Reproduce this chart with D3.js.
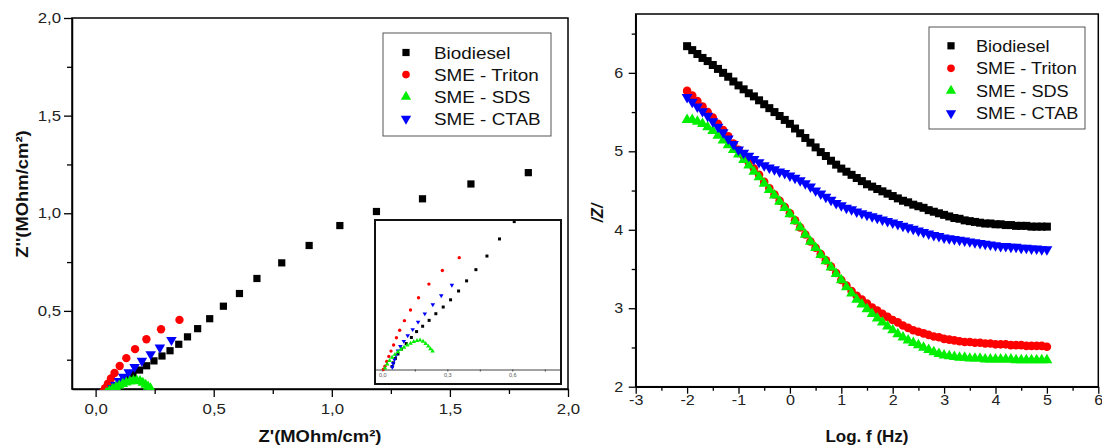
<!DOCTYPE html>
<html>
<head>
<meta charset="utf-8">
<script src="https://cdn.jsdelivr.net/npm/d3@7"></script>
<style>
  body { margin: 0; background: #fff; }
  text { font-family: "Liberation Sans", Arial, sans-serif; }
</style>
</head>
<body>
<div id="chart"></div>
<script>
// ---- Nyquist data (Z', Z'') in MOhm/cm2
var nyqBiodiesel = [[0.045,0.046],[0.051,0.06],[0.06,0.076],[0.072,0.093],[0.088,0.112],[0.11,0.132],[0.134,0.155],
    [0.158,0.177],[0.186,0.197],[0.216,0.219],[0.247,0.244],[0.281,0.269],[0.315,0.296],[0.352,0.329],[0.389,0.367],
    [0.432,0.409],[0.483,0.46],[0.541,0.524],[0.609,0.589],[0.683,0.666],[0.788,0.746],[0.904,0.835],[1.034,0.937],
    [1.189,1.009],[1.384,1.074],[1.589,1.15],[1.832,1.208]];
var nyqTriton = [[0.005,0.036],[0.012,0.047],[0.02,0.065],[0.03,0.084],[0.04,0.104],[0.052,0.127],[0.065,0.154],
    [0.08,0.182],[0.102,0.218],[0.13,0.258],[0.167,0.304],[0.215,0.355],[0.277,0.406],[0.355,0.454]];
var nyqSDS = [[0.012,0.04],[0.022,0.055],[0.033,0.068],[0.045,0.08],[0.058,0.091],[0.072,0.101],[0.086,0.11],
    [0.1,0.118],[0.115,0.126],[0.13,0.133],[0.145,0.139],[0.16,0.143],[0.174,0.145],[0.188,0.14],[0.2,0.132],
    [0.212,0.122],[0.222,0.112],[0.232,0.104]];
var nyqCTAB = [[0.046,0.044],[0.05,0.057],[0.056,0.072],[0.063,0.088],[0.072,0.105],[0.083,0.122],[0.099,0.141],
    [0.117,0.162],[0.14,0.185],[0.165,0.213],[0.196,0.244],[0.233,0.278],[0.272,0.312],[0.321,0.351]];

// ---- Bode data: log f (Hz) and |Z|
var logF = [-2.0,-1.9,-1.8,-1.7,-1.6,-1.5,-1.4,-1.3,-1.2,-1.1,-1.0,-0.9,-0.8,-0.7,-0.6,-0.5,-0.4,-0.3,-0.2,-0.1,
    0.0,0.1,0.2,0.3,0.4,0.5,0.6,0.7,0.8,0.9,1.0,1.1,1.2,1.3,1.4,1.5,1.6,1.7,1.8,1.9,2.0,2.1,2.2,2.3,2.4,2.5,2.6,2.7,
    2.8,2.9,3.0,3.1,3.2,3.3,3.4,3.5,3.6,3.7,3.8,3.9,4.0,4.1,4.2,4.3,4.4,4.5,4.6,4.7,4.8,4.9,5.0];
var zBiodiesel = [6.34,6.29,6.24,6.19,6.15,6.10,6.05,6.00,5.95,5.89,5.84,5.79,5.74,5.70,5.65,5.60,5.55,5.50,5.45,5.40,
    5.35,5.29,5.23,5.17,5.11,5.05,4.99,4.94,4.88,4.83,4.78,4.74,4.70,4.66,4.62,4.58,4.55,4.52,4.49,4.46,4.43,4.40,
    4.37,4.35,4.32,4.30,4.28,4.25,4.23,4.21,4.19,4.17,4.15,4.14,4.12,4.11,4.10,4.09,4.08,4.08,4.07,4.07,4.06,4.06,
    4.05,4.05,4.05,4.04,4.04,4.04,4.04];
var zTriton = [5.77,5.71,5.64,5.57,5.50,5.43,5.35,5.27,5.19,5.10,5.02,4.94,4.86,4.78,4.70,4.61,4.53,4.45,4.37,4.29,
    4.21,4.12,4.03,3.94,3.85,3.77,3.69,3.61,3.53,3.45,3.36,3.29,3.22,3.16,3.11,3.06,3.01,2.97,2.93,2.89,2.85,2.82,
    2.78,2.75,2.72,2.70,2.68,2.66,2.64,2.63,2.61,2.60,2.59,2.58,2.57,2.57,2.56,2.56,2.55,2.55,2.54,2.54,2.54,2.53,
    2.53,2.53,2.52,2.52,2.52,2.52,2.51];
var zSDS = [5.40,5.40,5.38,5.35,5.31,5.26,5.20,5.14,5.08,5.02,4.96,4.89,4.82,4.74,4.67,4.59,4.51,4.44,4.36,4.28,
    4.20,4.11,4.03,3.94,3.85,3.77,3.68,3.60,3.52,3.44,3.36,3.27,3.19,3.11,3.05,2.99,2.93,2.87,2.82,2.77,2.72,2.67,
    2.63,2.59,2.56,2.53,2.50,2.47,2.44,2.42,2.40,2.39,2.38,2.37,2.37,2.36,2.36,2.36,2.35,2.35,2.35,2.35,2.35,2.35,
    2.34,2.34,2.34,2.34,2.34,2.34,2.34];
var zCTAB = [5.69,5.63,5.57,5.51,5.45,5.38,5.31,5.24,5.16,5.09,5.02,4.98,4.94,4.90,4.86,4.82,4.79,4.77,4.74,4.72,
    4.69,4.66,4.63,4.59,4.55,4.50,4.46,4.42,4.38,4.34,4.31,4.28,4.26,4.23,4.21,4.19,4.17,4.15,4.13,4.11,4.09,4.07,
    4.05,4.03,4.01,3.99,3.97,3.95,3.93,3.92,3.90,3.89,3.88,3.87,3.86,3.85,3.84,3.83,3.82,3.81,3.80,3.79,3.79,3.78,
    3.78,3.77,3.77,3.76,3.76,3.75,3.75];

var seriesNames = ['Biodiesel', 'SME - Triton', 'SME - SDS', 'SME - CTAB'];
var seriesColors = ['#000000', '#ff0000', '#00ee00', '#0000ff'];
var seriesShapes = ['square', 'circle', 'up', 'down'];

var svg = d3.select('#chart').append('svg')
    .attr('width', 1102).attr('height', 446)
    .style('background', '#fff');

// marker path helper
function markerPath(shape, size) {
    var t = shape === 'square' ? d3.symbolSquare : shape === 'circle' ? d3.symbolCircle : d3.symbolTriangle;
    return d3.symbol().type(t).size(size)();
}
function rot(shape) { return shape === 'down' ? ' rotate(180)' : ''; }

// stretched text helper (the original type is a bit wide)
function label(g, x, y, str, size, sx, opts) {
    opts = opts || {};
    var t = g.append('text')
        .attr('transform', 'translate(' + x + ',' + y + ')' + (opts.rotate ? ' rotate(' + opts.rotate + ')' : '') + ' scale(' + sx + ',1)')
        .attr('font-size', size)
        .attr('text-anchor', opts.anchor || 'start')
        .attr('fill', opts.fill || '#111')
        .text(str);
    if (opts.bold) t.attr('font-weight', 'bold');
    if (opts.italic) t.attr('font-style', 'italic');
    return t;
}

function styleAxis(g, sx, fontSize, isLeft, offset) {
    g.select('.domain').attr('stroke', '#000').attr('stroke-width', 1.5);
    g.selectAll('.tick line').attr('stroke', '#000').attr('stroke-width', 1.3);
    g.selectAll('.tick text')
        .attr('font-size', fontSize)
        .attr('fill', '#222')
        .attr('font-family', '"Liberation Sans", Arial, sans-serif')
        .attr('transform', 'scale(' + sx + ',1)');
    if (isLeft) g.selectAll('.tick text').attr('x', -offset / sx);
}
var comma = function (d) { return d.toFixed(1).replace('.', ','); };
var plain = function (d) { return String(d); };

// ================= LEFT: Nyquist =================
var xL = d3.scaleLinear().domain([-0.1, 2.0]).range([72, 568]);
var yL = d3.scaleLinear().domain([0.1, 2.0]).range([389, 18]);
var left = svg.append('g');

left.append('defs').append('clipPath').attr('id', 'clipL')
    .append('rect').attr('x', 72).attr('y', 18).attr('width', 496).attr('height', 372);

left.append('rect').attr('x', 72).attr('y', 18).attr('width', 496).attr('height', 371)
    .attr('fill', 'none').attr('stroke', '#000').attr('stroke-width', 1.5);

var lxMinor = left.append('g').attr('transform', 'translate(0,389)')
    .call(d3.axisBottom(xL).tickValues([0.25, 0.75, 1.25, 1.75]).tickSize(5).tickFormat(''));
lxMinor.select('.domain').remove();
lxMinor.selectAll('line').attr('stroke', '#000').attr('stroke-width', 1.3);
var lx = left.append('g').attr('transform', 'translate(0,389)')
    .call(d3.axisBottom(xL).tickValues([0, 0.5, 1.0, 1.5, 2.0]).tickSize(8).tickSizeOuter(0).tickPadding(7).tickFormat(comma));
styleAxis(lx, 1.2, 14, false);

var lyMinor = left.append('g').attr('transform', 'translate(72,0)')
    .call(d3.axisLeft(yL).tickValues([0.25, 0.75, 1.25, 1.75]).tickSize(5).tickFormat(''));
lyMinor.select('.domain').remove();
lyMinor.selectAll('line').attr('stroke', '#000').attr('stroke-width', 1.3);
var ly = left.append('g').attr('transform', 'translate(72,0)')
    .call(d3.axisLeft(yL).tickValues([0.5, 1.0, 1.5, 2.0]).tickSize(8).tickSizeOuter(0).tickFormat(comma));
styleAxis(ly, 1.2, 14, true, 11);

var nyqData = [nyqBiodiesel, nyqTriton, nyqCTAB, nyqSDS];
var nyqIdx = [0, 1, 3, 2];
var nyqSizes = { square: 52, circle: 55, up: 48, down: 48 };
var plotL = left.append('g').attr('clip-path', 'url(#clipL)');
nyqData.forEach(function (data, k) {
    var i = nyqIdx[k];
    plotL.selectAll('.m' + i).data(data).enter().append('path')
        .attr('d', markerPath(seriesShapes[i], nyqSizes[seriesShapes[i]]))
        .attr('transform', function (d) { return 'translate(' + xL(d[0]) + ',' + yL(d[1]) + ')' + rot(seriesShapes[i]); })
        .attr('fill', seriesColors[i]);
});

// inset
var xI = d3.scaleLinear().domain([-0.034, 0.825]).range([375, 561]);
var yI = d3.scaleLinear().domain([0.035, 0.595]).range([369.5, 220]);
left.append('defs').append('clipPath').attr('id', 'clipI')
    .append('rect').attr('x', 375).attr('y', 220).attr('width', 186).attr('height', 151);
left.append('rect').attr('x', 375).attr('y', 220).attr('width', 186).attr('height', 164)
    .attr('fill', '#fff').attr('stroke', 'none');
var ixMinor = left.append('g').attr('transform', 'translate(0,369.5)')
    .call(d3.axisBottom(xI).tickValues([0.15, 0.45, 0.75]).tickSize(2).tickFormat(''));
ixMinor.select('.domain').remove();
ixMinor.selectAll('line').attr('stroke', '#444');
var ix = left.append('g').attr('transform', 'translate(0,369.5)')
    .call(d3.axisBottom(xI).tickValues([0, 0.3, 0.6]).tickSize(2).tickSizeOuter(0).tickPadding(2).tickFormat(comma));
ix.select('.domain').attr('stroke', '#444').attr('stroke-width', 1);
ix.selectAll('.tick line').attr('stroke', '#444');
ix.selectAll('.tick text').attr('font-size', 5.5).attr('fill', '#555');

var plotI = left.append('g').attr('clip-path', 'url(#clipI)');
var insetSizes = { square: 9, circle: 9, up: 9, down: 9 };
nyqData.forEach(function (data, k) {
    var i = nyqIdx[k];
    plotI.selectAll('.i' + i).data(data).enter().append('path')
        .attr('d', markerPath(seriesShapes[i], insetSizes[seriesShapes[i]]))
        .attr('transform', function (d) { return 'translate(' + xI(d[0]) + ',' + yI(d[1]) + ')' + rot(seriesShapes[i]); })
        .attr('fill', seriesColors[i]);
});
left.append('rect').attr('x', 375).attr('y', 220).attr('width', 186).attr('height', 164)
    .attr('fill', 'none').attr('stroke', '#111').attr('stroke-width', 2);

// legend left
var legL = left.append('g');
legL.append('rect').attr('x', 383).attr('y', 33).attr('width', 168).attr('height', 103)
    .attr('fill', '#fff').attr('stroke', '#555').attr('stroke-width', 1);
seriesNames.forEach(function (name, i) {
    var yy = 52.5 + i * 22.1;
    legL.append('path').attr('d', markerPath(seriesShapes[i], seriesShapes[i] === 'square' ? 52 : 46))
        .attr('transform', 'translate(406,' + yy + ')' + rot(seriesShapes[i]))
        .attr('fill', seriesColors[i]);
    label(legL, 434, yy + 6, name, 16, 1.18);
});

label(left, 320, 442, "Z'(MOhm/cm\u00b2)", 16, 1.15, { anchor: 'middle', bold: true });
label(left, 28, 194, "Z''(MOhm/cm\u00b2)", 16, 1.15, { anchor: 'middle', bold: true, rotate: -90 });

// ================= RIGHT: Bode =================
var xR = d3.scaleLinear().domain([-3, 6]).range([635.7, 1098.3]);
var yR = d3.scaleLinear().domain([2, 6.75]).range([386.7, 14]);
var right = svg.append('g');

right.append('rect').attr('x', 635.7).attr('y', 14).attr('width', 462.6).attr('height', 372.7)
    .attr('fill', 'none').attr('stroke', '#000').attr('stroke-width', 1.5);

var rxMinor = right.append('g').attr('transform', 'translate(0,386.7)')
    .call(d3.axisBottom(xR).tickValues([-2.5, -1.5, -0.5, 0.5, 1.5, 2.5, 3.5, 4.5, 5.5]).tickSize(4).tickFormat(''));
rxMinor.select('.domain').remove();
rxMinor.selectAll('line').attr('stroke', '#000').attr('stroke-width', 1.3);
var rx = right.append('g').attr('transform', 'translate(0,386.7)')
    .call(d3.axisBottom(xR).tickValues([-3, -2, -1, 0, 1, 2, 3, 4, 5, 6]).tickSize(7).tickSizeOuter(0).tickPadding(1).tickFormat(plain));
styleAxis(rx, 1.15, 14, false);

var ryMinor = right.append('g').attr('transform', 'translate(635.7,0)')
    .call(d3.axisLeft(yR).tickValues([2.5, 3.5, 4.5, 5.5, 6.5]).tickSize(4).tickFormat(''));
ryMinor.select('.domain').remove();
ryMinor.selectAll('line').attr('stroke', '#000').attr('stroke-width', 1.3);
var ry = right.append('g').attr('transform', 'translate(635.7,0)')
    .call(d3.axisLeft(yR).tickValues([2, 3, 4, 5, 6]).tickSize(7).tickSizeOuter(0).tickFormat(plain));
styleAxis(ry, 1.15, 14, true, 12.5);

var bodeData = [zBiodiesel, zTriton, zSDS, zCTAB];
var bodeSizes = { square: 64, circle: 58, up: 52, down: 52 };
bodeData.forEach(function (vals, i) {
    right.selectAll('.b' + i).data(vals).enter().append('path')
        .attr('d', markerPath(seriesShapes[i], bodeSizes[seriesShapes[i]]))
        .attr('transform', function (d, j) { return 'translate(' + xR(logF[j]) + ',' + yR(d) + ')' + rot(seriesShapes[i]); })
        .attr('fill', seriesColors[i]);
});

// legend right
var legR = right.append('g');
legR.append('rect').attr('x', 929).attr('y', 27).attr('width', 156).attr('height', 102)
    .attr('fill', '#fff').attr('stroke', '#555').attr('stroke-width', 1);
seriesNames.forEach(function (name, i) {
    var yy = 45.8 + i * 22.5;
    legR.append('path').attr('d', markerPath(seriesShapes[i], seriesShapes[i] === 'square' ? 52 : 46))
        .attr('transform', 'translate(951,' + yy + ')' + rot(seriesShapes[i]))
        .attr('fill', seriesColors[i]);
    label(legR, 976, yy + 6, name, 16.5, 1.1);
});

label(right, 867, 442, 'Log. f (Hz)', 17, 1.0, { anchor: 'middle', bold: true });
label(right, 603, 213, '/Z/', 16, 1.0, { anchor: 'middle', bold: true, italic: true, rotate: -90 });
</script>
</body>
</html>
